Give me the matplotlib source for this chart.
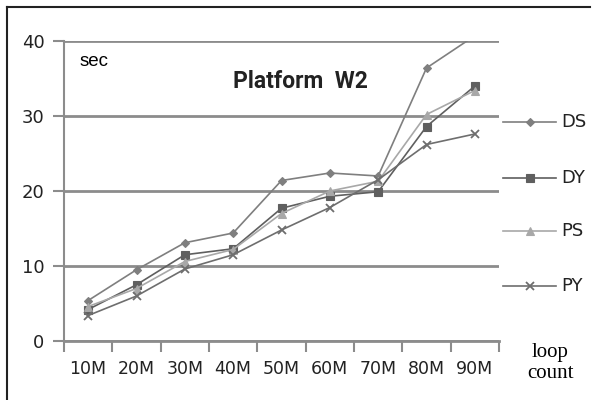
import matplotlib
matplotlib.use("Agg")
import matplotlib.pyplot as plt
from matplotlib.lines import Line2D

categories = ["10M", "20M", "30M", "40M", "50M", "60M", "70M", "80M", "90M"]
ds = [5.4, 9.5, 13.1, 14.4, 21.4, 22.4, 22.0, 36.4, 40.7]
dy = [4.2, 7.5, 11.5, 12.3, 17.7, 19.3, 19.9, 28.6, 34.0]
ps = [4.6, 7.0, 10.6, 12.2, 17.0, 20.0, 21.3, 30.2, 33.4]
py = [3.4, 6.0, 9.6, 11.5, 14.8, 17.8, 21.5, 26.2, 27.6]
y_ticks = [0, 10, 20, 30, 40]

series = [
    ("DS", ds, "#7f7f7f", "D", 4.5),
    ("DY", dy, "#5f5f5f", "s", 6),
    ("PS", ps, "#a8a8a8", "^", 6),
    ("PY", py, "#6e6e6e", "x", 6),
]

fig = plt.figure(figsize=(5.94, 4.00), dpi=100)
# outer frame: top and left edges only
fig.add_artist(Line2D([7/594, 590/594], [1-7/400, 1-7/400], transform=fig.transFigure,
                      color="#222222", linewidth=1.5))
fig.add_artist(Line2D([7/594, 7/594], [0, 1-7/400], transform=fig.transFigure,
                      color="#222222", linewidth=1.5))
ax = fig.add_axes([64/594, 1-341/400, 435/594, 300/400])

x = list(range(len(categories)))
for name, vals, col, mk, ms in series:
    ax.plot(x, vals, color=col, linewidth=1.2, marker=mk, markersize=ms,
            markeredgewidth=1.3 if mk == "x" else 0.8, zorder=3)

ax.set_xlim(-0.5, len(categories) - 0.5)
ax.set_ylim(0, 40)
ax.set_yticks(y_ticks)
ax.set_yticklabels([str(v) for v in y_ticks], fontsize=13, color="#222222")
ax.set_xticks(x)
ax.set_xticklabels(categories, fontsize=12.5, color="#222222")
ax.set_xticks([i - 0.5 for i in range(len(categories) + 1)], minor=True)
ax.tick_params(axis="x", which="major", length=0, pad=14)
ax.tick_params(axis="x", which="minor", length=8, width=1.5, color="#8c8c8c", direction="out")
ax.tick_params(axis="y", length=8, width=1.5, color="#8c8c8c", pad=6)

for v in y_ticks:
    ax.axhline(v, color="#8c8c8c", linewidth=2, zorder=1)
for s in ["top", "right"]:
    ax.spines[s].set_visible(False)
ax.spines["left"].set_color("#8c8c8c")
ax.spines["left"].set_linewidth(1.5)
ax.spines["bottom"].set_color("#8c8c8c")
ax.spines["bottom"].set_linewidth(2)

fig.text(80/594, 1-62/400, "sec", fontsize=13.5, family="Liberation Sans", va="center")
fig.text(300/594, 1-82/400, "Platform  W2", fontsize=16.5, fontweight="bold",
         family="Roboto", ha="center", va="center", color="#222222")
fig.text(550/594, 1-352/400, "loop", fontsize=15, family="Liberation Serif", ha="center", va="center")
fig.text(550/594, 1-373/400, "count", fontsize=15, family="Liberation Serif", ha="center", va="center")

leg_y = [122, 178, 231, 286]
for (name, vals, col, mk, ms), yy in zip(series, leg_y):
    yf = 1 - yy/400
    fig.add_artist(Line2D([503/594, 556/594], [yf, yf], transform=fig.transFigure,
                          color=col, linewidth=1.2))
    fig.add_artist(Line2D([529.5/594], [yf], transform=fig.transFigure, color=col,
                          marker=mk, markersize=ms,
                          markeredgewidth=1.3 if mk == "x" else 0.8, linestyle="none"))
    fig.text(561/594, yf, name, fontsize=13, va="center", color="#222222")

fig.savefig("out.png", dpi=100)
